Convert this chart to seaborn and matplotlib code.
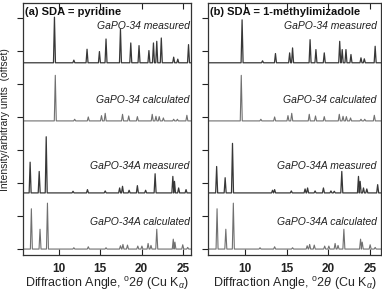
import numpy as np
import pandas as pd
import seaborn as sns
import matplotlib.pyplot as plt

# peak lists: 2theta position, height (offset units)
calc34_pos = [9.55, 11.9, 13.55, 15.15, 15.6, 17.7, 18.45, 19.5, 21.3, 21.75, 22.15, 22.65, 23.9, 24.35, 25.5]
calc34_h = [1.38, 0.05, 0.12, 0.16, 0.23, 0.2, 0.15, 0.13, 0.2, 0.14, 0.13, 0.09, 0.05, 0.05, 0.17]

calc34a_pos = [6.65, 7.7, 8.6, 11.8, 13.55, 15.7, 17.45, 17.75, 18.3, 19.55, 20.05, 20.8, 21.15, 21.85, 23.85, 24.05, 25.0, 25.6]
calc34a_h = [1.22, 0.6, 1.39, 0.04, 0.07, 0.04, 0.1, 0.14, 0.12, 0.09, 0.09, 0.17, 0.11, 0.6, 0.3, 0.21, 0.13, 0.05]

# (a) pyridine, measured
pyr34_pos = [9.45, 11.8, 13.4, 14.9, 15.7, 17.45, 18.7, 19.7, 20.9, 21.45, 21.85, 22.4, 23.9, 24.4, 25.7]
pyr34_h = [1.38, 0.08, 0.41, 0.34, 0.72, 1.02, 0.6, 0.52, 0.37, 0.6, 0.65, 0.75, 0.17, 0.11, 0.55]
pyr34a_pos = [6.5, 7.6, 8.45, 11.7, 13.45, 15.6, 17.35, 17.7, 18.5, 19.5, 20.5, 21.65, 23.8, 24.0, 24.5, 25.4]
pyr34a_h = [0.93, 0.65, 1.7, 0.05, 0.1, 0.06, 0.15, 0.2, 0.08, 0.22, 0.08, 0.58, 0.5, 0.35, 0.15, 0.1]

# (b) 1-methylimidazole, measured
mim34_pos = [9.65, 12.1, 13.65, 15.35, 15.7, 17.8, 18.5, 19.5, 21.35, 21.65, 22.1, 22.7, 23.9, 24.3, 25.6]
mim34_h = [1.3, 0.06, 0.28, 0.3, 0.45, 0.7, 0.4, 0.3, 0.65, 0.4, 0.4, 0.25, 0.15, 0.12, 0.5]
mim34a_pos = [6.6, 7.62, 8.5, 13.3, 13.55, 15.55, 17.2, 17.5, 18.4, 19.4, 20.3, 20.7, 21.6, 23.6, 23.8, 24.2, 24.6, 25.9]
mim34a_h = [0.8, 0.46, 1.5, 0.08, 0.1, 0.06, 0.12, 0.15, 0.06, 0.15, 0.06, 0.05, 0.65, 0.5, 0.35, 0.15, 0.12, 0.25]

# vertical offsets of each trace
offsets = {'34 measured': 5.64, '34 calculated': 3.88, '34A measured': 1.7, '34A calculated': 0.0}
label_y = {'34 measured': 6.76, '34 calculated': 4.5, '34A measured': 2.52, '34A calculated': 0.82}

MEAS = '#383838'
CALC = '#707070'


def _trace(pos, h, lo, hi, w=0.12):
    xs, ys = [lo], [0.0]
    for p, v in zip(pos, h):
        xs += [p - w, p, p + w]
        ys += [0.0, v, 0.0]
    xs.append(hi)
    ys.append(0.0)
    return pd.DataFrame({'x': xs, 'y': ys})


sns.set_style('ticks')
plt.rcParams['font.family'] = ['Liberation Sans', 'DejaVu Sans']
plt.rcParams['mathtext.fontset'] = 'custom'
plt.rcParams['mathtext.rm'] = 'Liberation Sans'
plt.rcParams['mathtext.it'] = 'Liberation Sans:italic'

fig = plt.figure(figsize=(3.82, 2.91), dpi=100)
bottom, height = 1 - 255 / 291, (255 - 3) / 291
ax1 = fig.add_axes([22.7 / 382, bottom, (191 - 22.7) / 382, height])
ax2 = fig.add_axes([208.3 / 382, bottom, (381 - 208.3) / 382, height])

panels = [
    (ax1, (5.6, 26.0), '(a) SDA = pyridine', pyr34_pos, pyr34_h, pyr34a_pos, pyr34a_h, 0.992),
    (ax2, (5.6, 26.3), '(b) SDA = 1-methylimizadole', mim34_pos, mim34_h, mim34a_pos, mim34a_h, 0.975),
]

for ax, xlim, title, m34p, m34h, m34ap, m34ah, tx in panels:
    lo, hi = xlim
    traces = [
        ('34 measured', m34p, m34h, MEAS, 0.9),
        ('34 calculated', calc34_pos, calc34_h, CALC, 0.8),
        ('34A measured', m34ap, m34ah, MEAS, 0.9),
        ('34A calculated', calc34a_pos, calc34a_h, CALC, 0.8),
    ]
    for key, pos, h, col, lw in traces:
        df = _trace(pos, h, lo, hi)
        df['y'] = df['y'] + offsets[key]
        sns.lineplot(data=df, x='x', y='y', ax=ax, color=col, lw=lw,
                     sort=False, estimator=None)
        ax.text(tx, label_y[key], 'GaPO-' + key, transform=ax.get_yaxis_transform(),
                ha='right', va='center', fontsize=7.5, style='italic', color='#202020')

    ax.text(0.012, 7.18, title, transform=ax.get_yaxis_transform(), ha='left', va='center',
            fontsize=8, fontweight='bold', color='#111111')

    ax.set_xlim(lo, hi)
    ax.set_ylim(-0.18, 7.45)
    ax.set_xticks([10, 15, 20, 25])
    ax.set_yticks(range(8))
    ax.set_yticklabels([])
    ax.set_xlabel(r'Diffraction Angle, $^{\rm o}$2$\it{\theta}$ (Cu K$_\alpha$)', fontsize=9, labelpad=0)
    ax.set_ylabel('')
    ax.tick_params(axis='x', direction='in', top=True, length=4, width=0.8, pad=6,
                   labelsize=8.5, colors='#222222')
    ax.tick_params(axis='y', direction='out', length=4, width=0.8, colors='#222222')
    for lab in ax.get_xticklabels():
        lab.set_fontweight('bold')
    for sp in ax.spines.values():
        sp.set_visible(True)
        sp.set_linewidth(0.9)
        sp.set_color('#333333')

fig.text(0.014, 1 - 120 / 291, 'Intensity/arbitrary units  (offset)', rotation=90,
         ha='center', va='center', fontsize=7.5, color='#222222')

fig.savefig('out.png', dpi=100)
